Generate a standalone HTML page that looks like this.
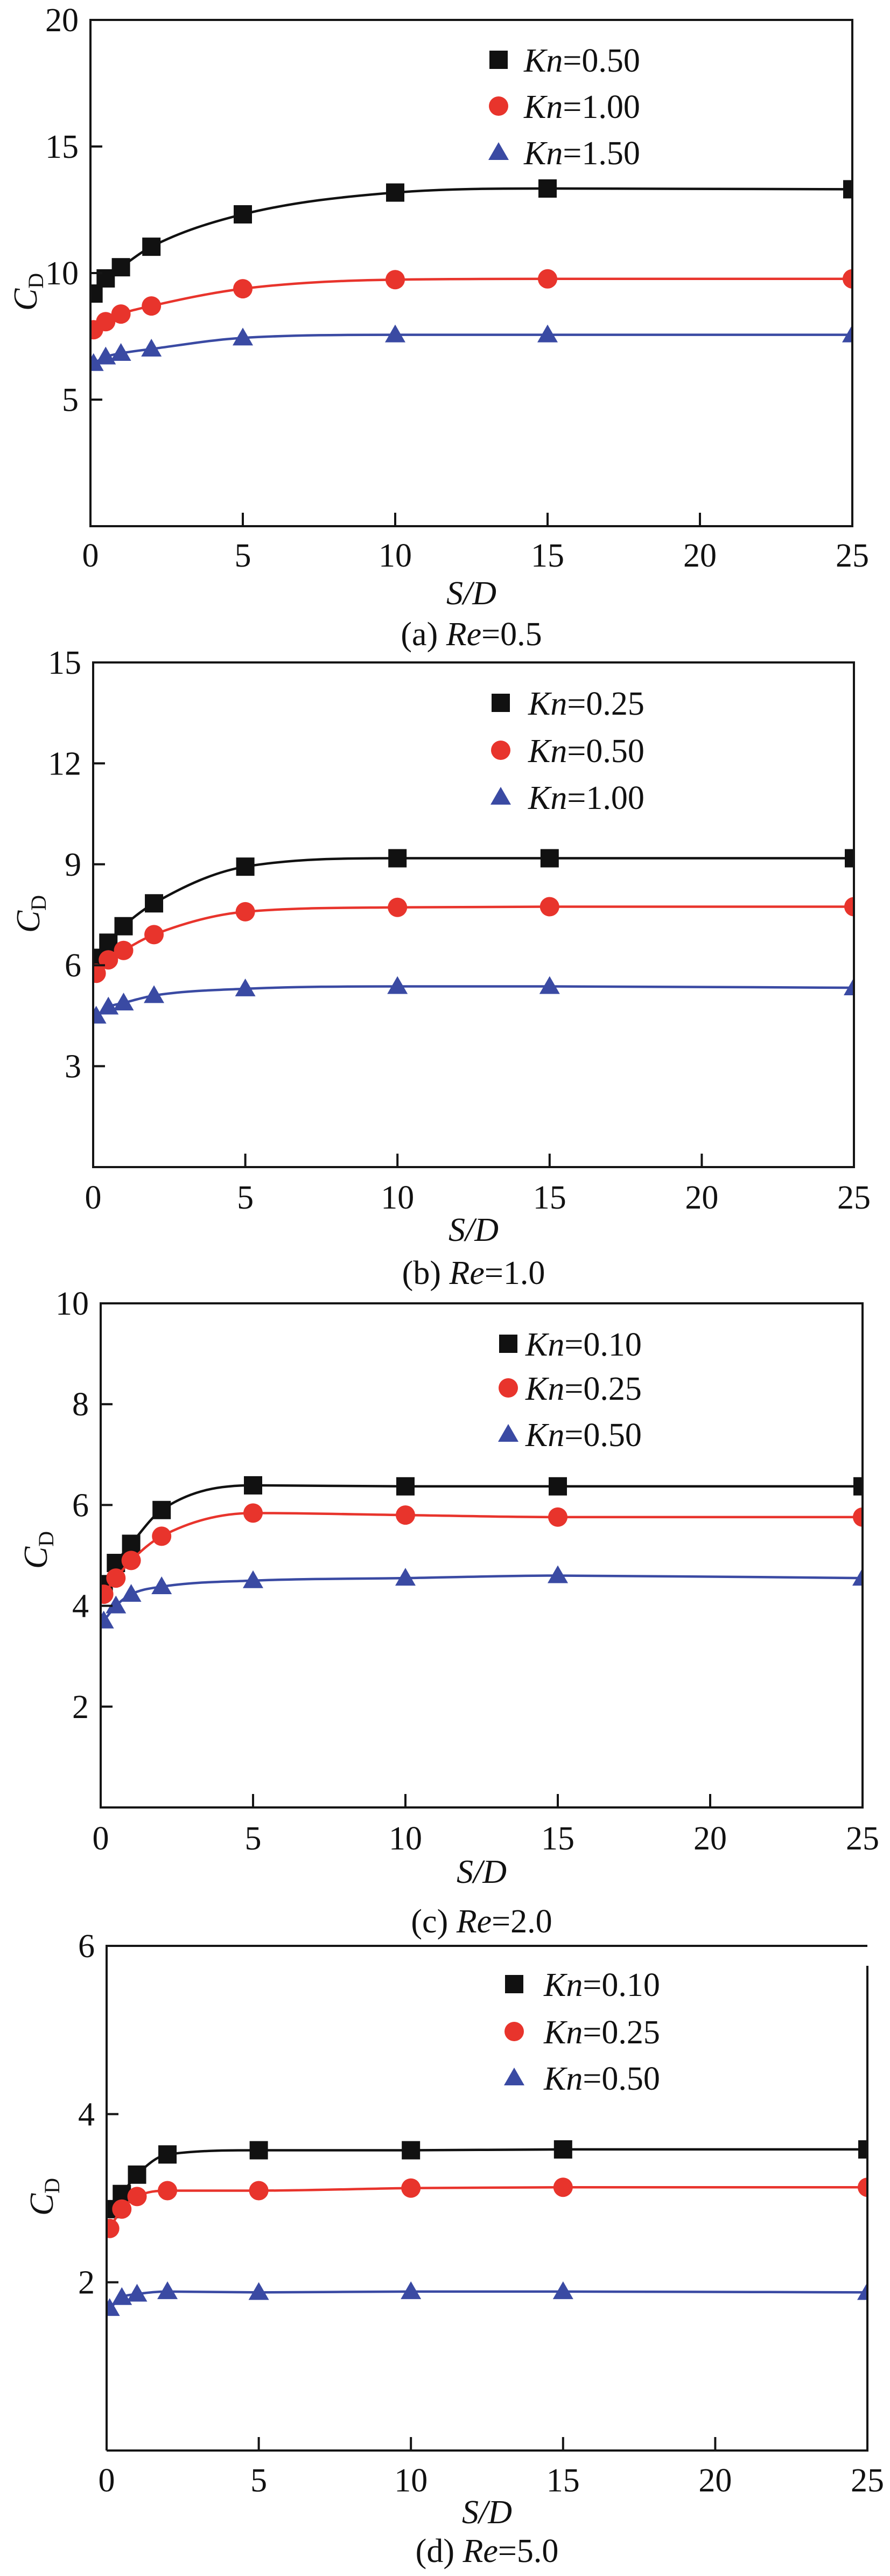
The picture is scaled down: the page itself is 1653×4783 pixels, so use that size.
<!DOCTYPE html>
<html><head><meta charset="utf-8">
<style>
html,body{margin:0;padding:0;background:#fff;}
svg{display:block;}
text{font-family:"Liberation Serif","Times New Roman",serif;fill:#111;}
</style></head>
<body>
<svg id="fig" width="1653" height="4783" viewBox="0 0 1653 4783" xmlns="http://www.w3.org/2000/svg"></svg>
<script>
// ---- data ----
const xValues = [0.1, 0.5, 1, 2, 5, 10, 15, 25];
const xTicks = [0, 5, 10, 15, 20, 25];

const aLabels = ["0.50", "1.00", "1.50"];
const aSeries0 = [9.19, 9.79, 10.23, 11.04, 12.32, 13.18, 13.34, 13.31];
const aSeries1 = [7.76, 8.08, 8.38, 8.70, 9.38, 9.74, 9.77, 9.77];
const aSeries2 = [6.43, 6.69, 6.83, 7.00, 7.44, 7.56, 7.56, 7.56];
const aYTicks = [5, 10, 15, 20];

const bLabels = ["0.25", "0.50", "1.00"];
const bSeries0 = [6.22, 6.67, 7.16, 7.84, 8.93, 9.18, 9.18, 9.18];
const bSeries1 = [5.76, 6.16, 6.44, 6.91, 7.59, 7.72, 7.74, 7.74];
const bSeries2 = [4.49, 4.76, 4.88, 5.10, 5.30, 5.37, 5.37, 5.33];
const bYTicks = [3, 6, 9, 12, 15];

const cLabels = ["0.10", "0.25", "0.50"];
const cSeries0 = [4.43, 4.85, 5.23, 5.90, 6.39, 6.37, 6.37, 6.37];
const cSeries1 = [4.23, 4.55, 4.90, 5.38, 5.84, 5.80, 5.76, 5.76];
const cSeries2 = [3.70, 4.00, 4.23, 4.38, 4.50, 4.55, 4.60, 4.55];
const cYTicks = [2, 4, 6, 8, 10];

const dLabels = ["0.10", "0.25", "0.50"];
const dSeries0 = [2.87, 3.05, 3.28, 3.52, 3.57, 3.57, 3.58, 3.58];
const dSeries1 = [2.64, 2.87, 3.02, 3.09, 3.09, 3.12, 3.13, 3.13];
const dSeries2 = [1.69, 1.82, 1.86, 1.89, 1.88, 1.89, 1.89, 1.88];
const dYTicks = [2, 4, 6];

const colors = ["#111111", "#e8342c", "#3a4aa3"];
const NS = "http://www.w3.org/2000/svg";
const svg = document.getElementById("fig");

function mk(tag, attrs, parent) {
  const e = document.createElementNS(NS, tag);
  for (const k in attrs) e.setAttribute(k, attrs[k]);
  (parent || svg).appendChild(e);
  return e;
}

function monotonePath(pts) {
  const n = pts.length;
  const dx = [], dy = [], m = [];
  for (let i = 0; i < n - 1; i++) { dx.push(pts[i+1][0]-pts[i][0]); dy.push(pts[i+1][1]-pts[i][1]); m.push(dy[i]/dx[i]); }
  const t = [m[0]];
  for (let i = 1; i < n - 1; i++) t.push(m[i-1]*m[i] <= 0 ? 0 : (m[i-1]+m[i])/2);
  t.push(m[n-2]);
  for (let i = 0; i < n - 1; i++) {
    if (m[i] === 0) { t[i] = 0; t[i+1] = 0; continue; }
    const a = t[i]/m[i], b = t[i+1]/m[i], s = a*a + b*b;
    if (s > 9) { const k = 3/Math.sqrt(s); t[i] = k*a*m[i]; t[i+1] = k*b*m[i]; }
  }
  let d = "M" + pts[0][0] + "," + pts[0][1];
  for (let i = 0; i < n - 1; i++) {
    const h = dx[i]/3;
    d += " C" + (pts[i][0]+h) + "," + (pts[i][1]+t[i]*h) + " " + (pts[i+1][0]-h) + "," + (pts[i+1][1]-t[i+1]*h) + " " + pts[i+1][0] + "," + pts[i+1][1];
  }
  return d;
}

function drawPanel(p) {
  const g = mk("g", {});
  
  
  const X = v => p.L + (v - 0) / 25 * (p.R - p.L);
  const Y = v => p.B - v / p.yMax * (p.B - p.T);
  const clipId = "clip" + p.id;
  const cp = mk("clipPath", {id: clipId}, g);
  mk("rect", {x: p.L, y: p.T, width: p.R - p.L, height: p.B - p.T}, cp);

  p.series.forEach((vals, si) => {
    const pts = xValues.map((xv, i) => [X(xv), Y(vals[i])]);
    const sg = mk("g", {"clip-path": "url(#" + clipId + ")"}, g);
    
    
    const path = mk("path", {d: monotonePath(pts), fill: "none", stroke: colors[si], "stroke-width": 4.5}, sg);
    
    
    pts.forEach((pt, i) => {
      const m = marker(si, pt[0], pt[1], sg);
      
      
    });
  });

  const box = mk("path", {d: p.boxPath, fill: "none", stroke: "#151515", "stroke-width": 4}, g);
  
  

  xTicks.forEach(v => {
    const x = X(v);
    if (v > 0 && v < 25) {
      const t = mk("line", {x1: x, x2: x, y1: p.B, y2: p.B - 25, stroke: "#151515", "stroke-width": 4}, g);
      
      
    }
    const lb = mk("text", {x: x, y: p.tickY, "font-size": 62, "text-anchor": "middle"}, g);
    lb.textContent = v;
    
    
  });
  p.yTicks.forEach(v => {
    const y = Y(v);
    if (v < p.yMax) {
      const t = mk("line", {x1: p.L, x2: p.L + 22, y1: y, y2: y, stroke: "#151515", "stroke-width": 4}, g);
      
      
    }
    const lb = mk("text", {x: p.L - 22, y: y + 21, "font-size": 62, "text-anchor": "end"}, g);
    lb.textContent = v;
    
    
  });

  const yt = mk("text", {x: 0, y: 0, "font-size": 62, "text-anchor": "middle", transform: "translate(" + (p.L - 100) + "," + p.cdY + ") rotate(-90)"}, g);
  yt.innerHTML = '<tspan font-style="italic">C</tspan><tspan font-size="40" dy="12">D</tspan>';
  
  

  const cx = (p.L + p.R) / 2;
  const xt = mk("text", {x: cx, y: p.sdY, "font-size": 62, "text-anchor": "middle", "font-style": "italic"}, g);
  xt.textContent = "S/D";
  
  

  const cap = mk("text", {x: cx, y: p.capY, "font-size": 62, "text-anchor": "middle"}, g);
  cap.innerHTML = '(' + p.id + ') <tspan font-style="italic">Re</tspan>=' + p.re;
  
  

  const lg = mk("g", {}, g);
  
  
  p.labels.forEach((lab, si) => {
    const y = p.legY[si];
    const e = mk("g", {}, lg);
    
    
    marker(si, p.legMX, y, e);
    const t = mk("text", {x: p.legTX, y: y + 22, "font-size": 62}, e);
    t.innerHTML = '<tspan font-style="italic">Kn</tspan>=' + lab;
  });
}

function marker(si, x, y, parent) {
  const s = 17;
  if (si === 0) return mk("rect", {x: x - s, y: y - s, width: 2*s, height: 2*s, fill: colors[0]}, parent);
  if (si === 1) return mk("circle", {cx: x, cy: y, r: 18, fill: colors[1]}, parent);
  return mk("polygon", {points: (x) + "," + (y - 19) + " " + (x + 19) + "," + (y + 14) + " " + (x - 19) + "," + (y + 14), fill: colors[2]}, parent);
}

function boxPath(L, T, R, B) { return "M" + L + "," + T + " H" + R + " V" + B + " H" + L + " Z"; }

drawPanel({id: "a", re: "0.5", L: 168, R: 1583, T: 37, B: 977, yMax: 20, yTicks: aYTicks,
  series: [aSeries0, aSeries1, aSeries2], labels: aLabels,
  boxPath: boxPath(168, 37, 1583, 977), tickY: 1052, sdY: 1122, capY: 1198, cdY: 542,
  legMX: 926, legTX: 973, legY: [111, 197, 283]});
drawPanel({id: "b", re: "1.0", L: 173, R: 1586, T: 1230, B: 2167, yMax: 15, yTicks: bYTicks,
  series: [bSeries0, bSeries1, bSeries2], labels: bLabels,
  boxPath: boxPath(173, 1230, 1586, 2167), tickY: 2244, sdY: 2304, capY: 2384, cdY: 1697,
  legMX: 930, legTX: 981, legY: [1305, 1393, 1480]});
drawPanel({id: "c", re: "2.0", L: 187, R: 1602, T: 2420, B: 3356, yMax: 10, yTicks: cYTicks,
  series: [cSeries0, cSeries1, cSeries2], labels: cLabels,
  boxPath: boxPath(187, 2420, 1602, 3356), tickY: 3434, sdY: 3496, capY: 3588, cdY: 2878,
  legMX: 944, legTX: 976, legY: [2495, 2577, 2663]});
drawPanel({id: "d", re: "5.0", L: 198, R: 1611, T: 3613, B: 4550, yMax: 6, yTicks: dYTicks,
  series: [dSeries0, dSeries1, dSeries2], labels: dLabels,
  boxPath: "M198,4550 V3613 H1611 M1611,3650 V4550 H198", tickY: 4626, sdY: 4685, capY: 4757, cdY: 4079,
  legMX: 955, legTX: 1010, legY: [3684, 3772, 3858]});
</script>
</body></html>
